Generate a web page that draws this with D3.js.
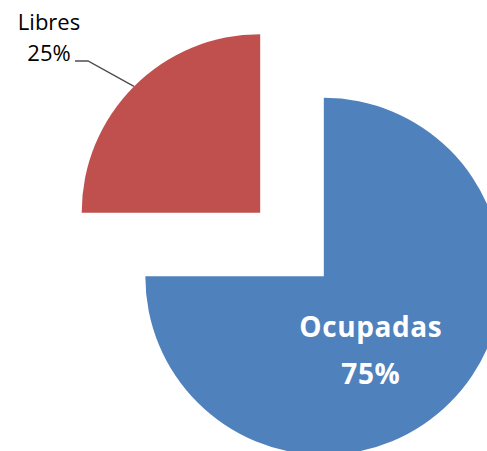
<!DOCTYPE html>
<html>
<head>
<meta charset="utf-8">
<script src="https://cdn.jsdelivr.net/npm/d3@7"></script>
<style>
  body { margin: 0; background: #fff; }
  svg { display: block; }
</style>
</head>
<body>
<div id="chart"></div>
<script>
// Data
const categories = ['Ocupadas', 'Libres'];
const values = [75, 25];
const colors = ['#4F81BD', '#C0504D'];

// Graph setup
const width = 487;
const height = 451;
const radius = 178.5;
const center = [292, 244.5];
const explode = 45;

const svg = d3.select('#chart')
  .append('svg')
  .attr('width', width)
  .attr('height', height);

const pie = d3.pie().sort(null).value(d => d.value);
const arc = d3.arc().innerRadius(0).outerRadius(radius);

const data = categories.map((name, i) => ({ name, value: values[i], color: colors[i] }));
const arcs = pie(data);
const total = d3.sum(values);

// offset of each exploded slice along its mid angle
const shift = d => {
  const a = (d.startAngle + d.endAngle) / 2;
  return [center[0] + Math.sin(a) * explode, center[1] - Math.cos(a) * explode];
};

const slices = svg.selectAll('g.slice')
  .data(arcs)
  .enter()
  .append('g')
  .attr('class', 'slice')
  .attr('transform', d => `translate(${shift(d)})`);

slices.append('path')
  .attr('d', arc)
  .style('fill', d => d.data.color);

// Ocupadas: label inside the slice
const inside = arcs[0];
const pct = d => `${Math.round(d.data.value / total * 100)}%`;
const insideLabel = svg.append('text')
  .attr('transform', () => {
    const [cx, cy] = shift(inside);
    return `translate(${cx + 47},${cy + 61})`;
  })
  .attr('text-anchor', 'middle')
  .style('font-family', '"Open Sans", sans-serif')
  .style('font-weight', 'bold')
  .style('font-size', '28px')
  .style('letter-spacing', '0.6px')
  .style('fill', '#fff');
insideLabel.append('tspan').attr('x', 0).attr('dy', 0).text(inside.data.name);
insideLabel.append('tspan').attr('x', 0).attr('dy', 47).text(pct(inside));

// Libres: label outside with leader line
const outside = arcs[1];
const [ox, oy] = shift(outside);
const mid = (outside.startAngle + outside.endAngle) / 2;
const edge = [ox + Math.sin(mid) * radius, oy - Math.cos(mid) * radius];
svg.append('polyline')
  .attr('points', [edge, [88, 61], [75, 61]].map(p => p.join(',')).join(' '))
  .style('fill', 'none')
  .style('stroke', '#4d4d4d')
  .style('stroke-width', 1.4);

const outsideLabel = svg.append('text')
  .attr('transform', 'translate(49,30)')
  .attr('text-anchor', 'middle')
  .style('font-family', '"Open Sans", sans-serif')
  .style('font-size', '22px')
  .style('fill', '#000');
outsideLabel.append('tspan').attr('x', 0).attr('dy', 0).text(outside.data.name);
outsideLabel.append('tspan').attr('x', 0).attr('dy', 31).text(pct(outside));
</script>
</body>
</html>
